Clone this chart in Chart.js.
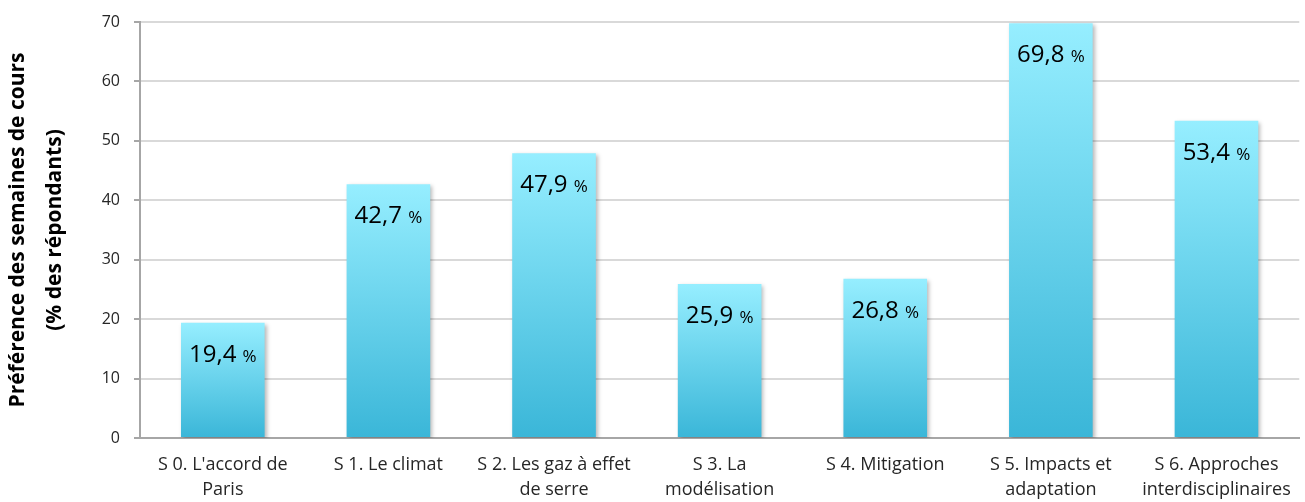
<!DOCTYPE html>
<html>
<head>
<meta charset="utf-8">
<script src="https://cdn.jsdelivr.net/npm/chart.js@4.4.1/dist/chart.umd.min.js"></script>
<style>
  html, body { margin: 0; padding: 0; background: #fff; }
  #wrap { width: 1305px; height: 502px; }
</style>
</head>
<body>
<div id="wrap"><canvas id="chart" width="1305" height="502"></canvas></div>
<script>
// Data
const categories = [
  ["S 0. L'accord de", "Paris"],
  ["S 1. Le climat"],
  ["S 2. Les gaz à effet", "de serre"],
  ["S 3. La", "modélisation"],
  ["S 4. Mitigation"],
  ["S 5. Impacts et", "adaptation"],
  ["S 6. Approches", "interdisciplinaires"]
];
const preference = [19.4, 42.7, 47.9, 25.9, 26.8, 69.8, 53.4];
const yTicks = [0, 10, 20, 30, 40, 50, 60, 70];

const FONT = "'Open Sans', sans-serif";

// gradient from light cyan at the bar top to deeper blue at the base
function barGradient(context) {
  const chart = context.chart;
  const yScale = chart.scales.y;
  if (!chart.chartArea || !yScale) return "#6fd3ec";
  const top = yScale.getPixelForValue(context.raw);
  const bottom = yScale.getPixelForValue(0);
  const g = chart.ctx.createLinearGradient(0, top, 0, bottom);
  g.addColorStop(0, "rgb(150,238,255)");
  g.addColorStop(1, "rgb(58,182,216)");
  return g;
}

// soft shadow behind the bars
const barShadow = {
  id: "barShadow",
  beforeDatasetsDraw(chart) {
    const ctx = chart.ctx;
    ctx.save();
    ctx.shadowColor = "rgba(0,0,0,0.28)";
    ctx.shadowBlur = 4;
    ctx.shadowOffsetX = 2;
    ctx.shadowOffsetY = 2;
  },
  afterDatasetsDraw(chart) {
    chart.ctx.restore();
  }
};

// value labels inside the bars: number large, "%" smaller
const valueLabels = {
  id: "valueLabels",
  afterDraw(chart) {
    const ctx = chart.ctx;
    const meta = chart.getDatasetMeta(0);
    ctx.save();
    ctx.fillStyle = "#000";
    ctx.textBaseline = "alphabetic";
    meta.data.forEach((bar, i) => {
      const num = preference[i].toFixed(1).replace(".", ",");
      const big = "24px " + FONT;
      const small = "17px " + FONT;
      ctx.font = big;
      const w1 = ctx.measureText(num + " ").width;
      ctx.font = small;
      const w2 = ctx.measureText("%").width;
      const x0 = bar.x - (w1 + w2) / 2;
      const yb = bar.y + 39;
      ctx.textAlign = "left";
      ctx.font = big;
      ctx.fillText(num + " ", x0, yb);
      ctx.font = small;
      ctx.fillText("%", x0 + w1, yb);
    });
    ctx.restore();
  }
};

new Chart(document.getElementById("chart"), {
  type: "bar",
  data: {
    labels: categories,
    datasets: [{
      label: "Préférence",
      data: preference,
      backgroundColor: barGradient,
      borderWidth: 0,
      barPercentage: 0.505,
      categoryPercentage: 1.0
    }]
  },
  options: {
    responsive: false,
    animation: false,
    layout: { padding: { top: 18, right: 4, left: 0, bottom: 0 } },
    plugins: {
      legend: { display: false },
      tooltip: { enabled: false }
    },
    scales: {
      x: {
        grid: { display: false, drawTicks: false },
        border: { display: true, color: "#a6a6a6", width: 2 },
        ticks: {
          color: "#262626",
          font: { family: FONT, size: 18, lineHeight: 1.4 },
          padding: 14,
          maxRotation: 0,
          autoSkip: false
        },
        afterFit(scale) { scale.height = 64; }
      },
      y: {
        min: 0,
        max: 70,
        afterBuildTicks(scale) {
          scale.ticks = yTicks.map(v => ({ value: v }));
        },
        grid: {
          color: "#d9d9d9",
          lineWidth: 2,
          tickColor: "#a6a6a6",
          tickLength: 6
        },
        border: { display: true, color: "#a6a6a6", width: 2 },
        ticks: {
          color: "#262626",
          font: { family: FONT, size: 16, lineHeight: 1 },
          padding: 14
        },
        title: {
          display: true,
          text: ["Préférence des semaines de cours", "(% des répondants)"],
          color: "#000",
          font: { family: FONT, size: 21, weight: "bold", lineHeight: 1.76 },
          padding: { top: 0, bottom: 0 }
        },
        afterFit(scale) { scale.width = 140; }
      }
    }
  },
  plugins: [barShadow, valueLabels]
});
</script>
</body>
</html>
